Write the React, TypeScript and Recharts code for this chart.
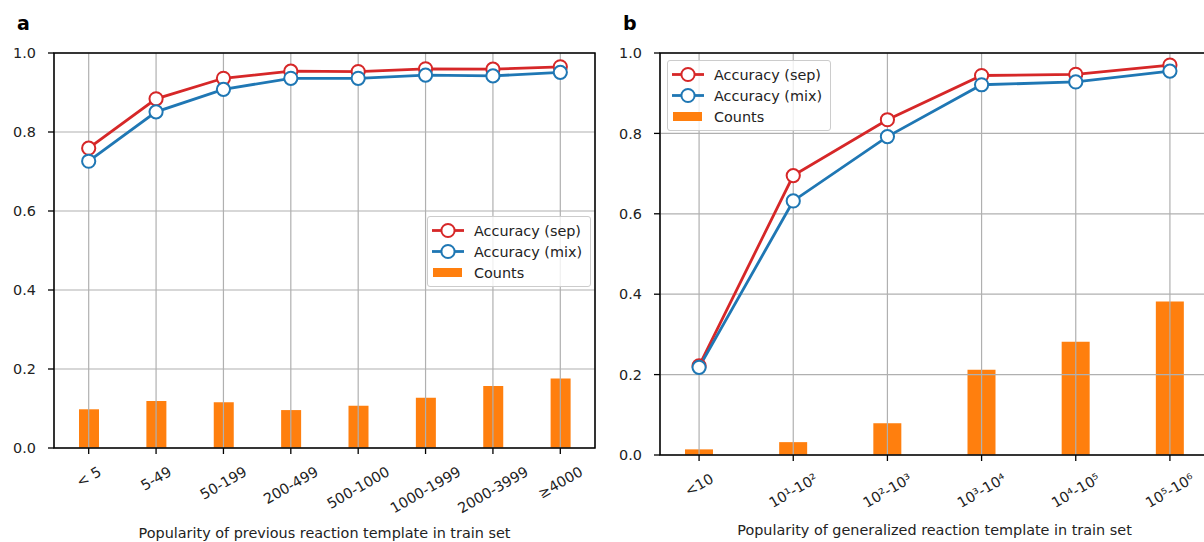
import {
  ComposedChart,
  Bar,
  Line,
  XAxis,
  YAxis,
  CartesianGrid,
  Legend,
  ReferenceArea,
} from "recharts";

// panel a
const A_LABELS = ["< 5", "5-49", "50-199", "200-499", "500-1000", "1000-1999", "2000-3999", "≥4000"];
const A_SEP = [0.759, 0.884, 0.936, 0.954, 0.953, 0.96, 0.959, 0.965];
const A_MIX = [0.726, 0.851, 0.908, 0.936, 0.936, 0.944, 0.942, 0.951];
const A_COUNTS = [0.098, 0.119, 0.116, 0.096, 0.107, 0.127, 0.157, 0.176];

// panel b
const B_LABELS = ["<10", "10¹-10²", "10²-10³", "10³-10⁴", "10⁴-10⁵", "10⁵-10⁶"];
const B_SEP = [0.222, 0.695, 0.834, 0.944, 0.947, 0.97];
const B_MIX = [0.218, 0.632, 0.792, 0.921, 0.928, 0.955];
const B_COUNTS = [0.014, 0.032, 0.079, 0.212, 0.282, 0.382];

const Y_TICKS = [0, 0.2, 0.4, 0.6, 0.8, 1.0];
const SERIES = ["Accuracy (sep)", "Accuracy (mix)", "Counts"];

const RED = "#d62728";
const BLUE = "#1f77b4";
const ORANGE = "#ff7f0e";
const TEXT = "#222";
const FONT = "'DejaVu Sans', sans-serif";
const FS = 14.4;

let ctx: CanvasRenderingContext2D | null = null;
const textWidth = (s: string) => {
  if (!ctx) ctx = document.createElement("canvas").getContext("2d");
  if (!ctx) return s.length * FS * 0.6;
  ctx.font = `${FS}px "DejaVu Sans"`;
  return ctx.measureText(s).width;
};

// rotated 30deg, centred under the tick like matplotlib's ha="center"
const RotatedTick = (props: any) => {
  const { x, y, payload, labels } = props;
  const label: string = labels[payload.value] ?? "";
  const w = textWidth(label);
  const h = FS * 1.16;
  const bh = w * 0.5 + h * 0.866;
  const cy = y + 7 + bh / 2;
  return (
    <text
      x={x}
      y={cy}
      textAnchor="middle"
      dominantBaseline="central"
      transform={`rotate(-30 ${x} ${cy})`}
      fontSize={FS}
      fontFamily={FONT}
      fill={TEXT}
    >
      {label}
    </text>
  );
};

const LegendBox = () => (
  <div
    style={{
      background: "rgba(255,255,255,0.8)",
      border: "1px solid #cccccc",
      borderRadius: 3,
      padding: "3px 8px 3px 4px",
      fontFamily: FONT,
      fontSize: FS,
      color: TEXT,
    }}
  >
    {SERIES.map((name, i) => (
      <div key={name} style={{ display: "flex", alignItems: "center", height: 21 }}>
        <svg width={32} height={21}>
          {i < 2 ? (
            <>
              <line x1={0} x2={32} y1={10.5} y2={10.5} stroke={i === 0 ? RED : BLUE} strokeWidth={2.8} />
              <circle cx={16} cy={10.5} r={6.6} fill="#fff" stroke={i === 0 ? RED : BLUE} strokeWidth={2} />
            </>
          ) : (
            <rect x={1} y={6} width={29} height={9} fill={ORANGE} />
          )}
        </svg>
        <span style={{ marginLeft: 10, whiteSpace: "nowrap" }}>{name}</span>
      </div>
    ))}
  </div>
);

type PanelProps = {
  labels: string[];
  sep: number[];
  mix: number[];
  counts: number[];
  xDomain: [number, number];
  barSize: number;
  width: number;
  margin: { top: number; right: number; left: number; bottom: number };
  xHeight: number;
  xTitle: string;
  titleOffset: number;
  legendPos: { left: number; top: number };
};

const Panel = (p: PanelProps) => {
  const data = p.labels.map((_, i) => ({
    x: i,
    sep: p.sep[i],
    mix: p.mix[i],
    counts: p.counts[i],
  }));
  const idx = p.labels.map((_, i) => i);
  return (
    <ComposedChart width={p.width} height={542} data={data} margin={p.margin}>
      <XAxis
        dataKey="x"
        type="number"
        domain={p.xDomain}
        allowDataOverflow
        ticks={idx}
        interval={0}
        height={p.xHeight}
        axisLine={false}
        tickSize={6}
        tickLine={{ stroke: "#000", strokeWidth: 1.3 }}
        tick={(tp: any) => <RotatedTick {...tp} labels={p.labels} />}
        label={{
          value: p.xTitle,
          position: "insideBottom",
          offset: p.titleOffset,
          fontSize: FS,
          fontFamily: FONT,
          fill: TEXT,
        }}
      />
      <YAxis
        type="number"
        domain={[0, 1]}
        allowDataOverflow
        ticks={Y_TICKS}
        width={50}
        axisLine={false}
        tickSize={6}
        tickMargin={12}
        tickLine={{ stroke: "#000", strokeWidth: 1.3 }}
        tickFormatter={(v: number) => v.toFixed(1)}
        tick={{ fontSize: FS, fontFamily: FONT, fill: TEXT }}
      />
      <Bar dataKey="counts" name={SERIES[2]} fill={ORANGE} barSize={p.barSize} isAnimationActive={false} />
      <CartesianGrid stroke="#b0b0b0" strokeWidth={1.2} zIndex={350} />
      <Line
        dataKey="sep"
        name={SERIES[0]}
        stroke={RED}
        strokeWidth={2.8}
        dot={{ r: 6.6, fill: "#fff", stroke: RED, strokeWidth: 2 }}
        isAnimationActive={false}
      />
      <Line
        dataKey="mix"
        name={SERIES[1]}
        stroke={BLUE}
        strokeWidth={2.8}
        dot={{ r: 6.6, fill: "#fff", stroke: BLUE, strokeWidth: 2 }}
        isAnimationActive={false}
      />
      <ReferenceArea
        x1={p.xDomain[0]}
        x2={p.xDomain[1]}
        y1={0}
        y2={1}
        fill="none"
        fillOpacity={0}
        stroke="#000"
        strokeWidth={1.5}
        ifOverflow="visible"
        zIndex={500}
      />
      <Legend
        layout="vertical"
        align="center"
        verticalAlign="middle"
        content={() => <LegendBox />}
        wrapperStyle={{ left: p.legendPos.left, top: p.legendPos.top, width: "auto", height: "auto" }}
      />
    </ComposedChart>
  );
};

export default function App() {
  return (
    <div
      style={{
        position: "fixed",
        left: 0,
        top: 0,
        width: 1204,
        height: 542,
        overflow: "hidden",
        background: "#fff",
      }}
    >
      <div style={{ position: "absolute", left: 0, top: 0 }}>
        <Panel
          labels={A_LABELS}
          sep={A_SEP}
          mix={A_MIX}
          counts={A_COUNTS}
          xDomain={[-0.515, 7.515]}
          barSize={20}
          width={600}
          margin={{ top: 53, right: 5, left: 4, bottom: 0 }}
          xHeight={94}
          xTitle="Popularity of previous reaction template in train set"
          titleOffset={4.5}
          legendPos={{ left: 427, top: 216 }}
        />
      </div>
      <div style={{ position: "absolute", left: 600, top: 0 }}>
        <Panel
          labels={B_LABELS}
          sep={B_SEP}
          mix={B_MIX}
          counts={B_COUNTS}
          xDomain={[-0.415, 5.415]}
          barSize={28}
          width={620}
          margin={{ top: 53, right: 11, left: 10, bottom: 0 }}
          xHeight={87}
          xTitle="Popularity of generalized reaction template in train set"
          titleOffset={7.5}
          legendPos={{ left: 67, top: 60 }}
        />
      </div>
      <svg
        width={1204}
        height={542}
        style={{ position: "absolute", left: 0, top: 0, pointerEvents: "none" }}
      >
        <text x={17} y={30} fontSize={19} fontWeight="bold" fontFamily={FONT} fill="#000">
          a
        </text>
        <text x={623} y={30} fontSize={19} fontWeight="bold" fontFamily={FONT} fill="#000">
          b
        </text>
      </svg>
    </div>
  );
}
